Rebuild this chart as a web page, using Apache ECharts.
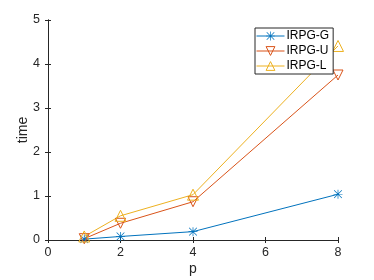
<!DOCTYPE html>
<html>
<head>
<meta charset="utf-8">
<script src="https://cdn.jsdelivr.net/npm/echarts@6/dist/echarts.min.js"></script>
<style>html,body{margin:0;padding:0;background:#fff}#c{width:374px;height:280px}</style>
</head>
<body>
<div id="c"></div>
<script>
var pValues = [1, 2, 4, 8];
var seriesNames = ['IRPG-G', 'IRPG-U', 'IRPG-L'];
var timeG = [0.02, 0.08, 0.19, 1.04];
var timeU = [0.03, 0.38, 0.87, 3.75];
var timeL = [0.08, 0.55, 1.03, 4.41];
var xTicks = [0, 2, 4, 6, 8];
var yTicks = [0, 1, 2, 3, 4, 5];

var colors = ['#0072BD', '#D95319', '#EDB120'];
var font = 'Liberation Sans, Arial, Helvetica, sans-serif';
var txt = '#262626';

var asterisk = 'path://M4.6 0H5.4V10H4.6Z M0 4.6H10V5.4H0Z M0.42 0.98L0.98 0.42L9.58 9.02L9.02 9.58Z M9.02 0.42L9.58 0.98L0.98 9.58L0.42 9.02Z';

function pairs(ys) { return pValues.map(function (p, i) { return [p, ys[i]]; }); }

var chart = echarts.init(document.getElementById('c'), null, {renderer: 'canvas'});
var axisCommon = {
  axisLine: {show: true, lineStyle: {color: txt, width: 1}},
  splitLine: {show: false}
};
var hollow = function (c) { return {color: 'rgba(0,0,0,0)', borderColor: c, borderWidth: 1}; };
chart.setOption({
  animation: false,
  backgroundColor: '#fff',
  textStyle: {fontFamily: font},
  grid: {left: 48, right: 36, top: 20, bottom: 40, containLabel: false, outerBoundsMode: 'none'},
  legend: {
    orient: 'vertical',
    left: 255, top: 28,
    itemWidth: 28, itemHeight: 11, itemGap: 3,
    padding: [2, 4, 2, 1],
    borderColor: txt, borderWidth: 1, backgroundColor: '#fff',
    lineStyle: {width: 1},
    textStyle: {fontFamily: font, fontSize: 12, color: '#000', padding: [0, 0, 0, -3]},
    data: [
      {name: seriesNames[0], itemStyle: {color: colors[0], borderWidth: 0}},
      {name: seriesNames[1], itemStyle: hollow(colors[1])},
      {name: seriesNames[2], itemStyle: hollow(colors[2])}
    ]
  },
  xAxis: [
    Object.assign({type: 'value', min: 0, max: 8, interval: 2, position: 'bottom',
      name: 'p', nameLocation: 'middle', nameGap: 22, nameMoveOverlap: false,
      nameTextStyle: {fontFamily: font, fontSize: 14, color: txt},
      axisTick: {show: true, inside: true, length: 3, lineStyle: {color: txt}},
      axisLabel: {fontFamily: font, fontSize: 12.5, color: txt, margin: 6,
        formatter: function (v) { return xTicks.indexOf(v) >= 0 ? String(v) : ''; }}
    }, axisCommon),
    Object.assign({type: 'value', min: 0, max: 8, interval: 2, position: 'top',
      axisTick: {show: true, inside: true, length: 3, lineStyle: {color: txt}},
      axisLabel: {show: false}}, axisCommon)
  ],
  yAxis: [
    Object.assign({type: 'value', min: 0, max: 5, interval: 1, position: 'left',
      name: 'time', nameLocation: 'middle', nameGap: 18, nameRotate: 90, nameMoveOverlap: false,
      nameTextStyle: {fontFamily: font, fontSize: 14, color: txt},
      axisTick: {show: true, inside: true, length: 3, lineStyle: {color: txt}},
      axisLabel: {fontFamily: font, fontSize: 12.5, color: txt, margin: 8,
        formatter: function (v) { return yTicks.indexOf(v) >= 0 ? String(v) : ''; }}
    }, axisCommon),
    Object.assign({type: 'value', min: 0, max: 5, interval: 1, position: 'right',
      axisTick: {show: true, inside: true, length: 3, lineStyle: {color: txt}},
      axisLabel: {show: false}}, axisCommon)
  ],
  series: [
    {name: seriesNames[0], type: 'line', data: pairs(timeG),
      symbol: asterisk, symbolSize: 9,
      itemStyle: {color: colors[0]}, lineStyle: {color: colors[0], width: 1}},
    {name: seriesNames[1], type: 'line', data: pairs(timeU),
      symbol: 'triangle', symbolRotate: 180, symbolSize: 10,
      itemStyle: hollow(colors[1]),
      lineStyle: {color: colors[1], width: 1}},
    {name: seriesNames[2], type: 'line', data: pairs(timeL),
      symbol: 'triangle', symbolSize: 11,
      itemStyle: hollow(colors[2]),
      lineStyle: {color: colors[2], width: 1}}
  ]
});
</script>
</body>
</html>
